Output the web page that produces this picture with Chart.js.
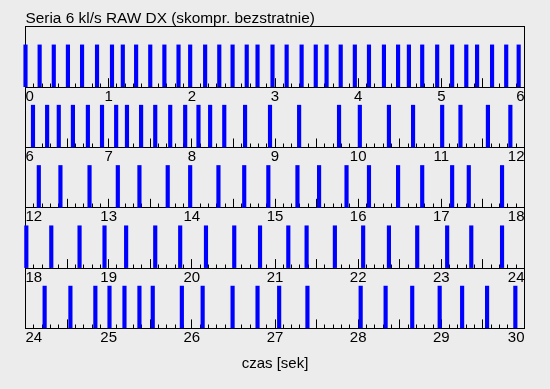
<!DOCTYPE html>
<html>
<head>
<meta charset="utf-8">
<script src="https://cdn.jsdelivr.net/npm/chart.js@4.4.0/dist/chart.umd.min.js"></script>
<style>
  html, body { margin: 0; padding: 0; background: #ececec; }
  #wrap { position: relative; width: 550px; height: 389px; overflow: hidden; background: #ececec; }
  #wrap canvas { position: absolute; left: 0; }
</style>
</head>
<body>
<div id="wrap"></div>
<script>
// ===== teksty =====
const chartTitle = 'Seria 6 kl/s RAW DX (skompr. bezstratnie)';
const axisTitle = 'czas [sek]';

// ===== wiersze: początek każdego odcinka (6 s) =====
const rowStarts = [0, 6, 12, 18, 24];
const rowSpan = 6;

// ===== czasy zapisanych klatek [s] =====
const frames0 = [0, 0.17, 0.34, 0.51, 0.68, 0.86, 1.04, 1.17, 1.33, 1.50, 1.67, 1.84, 1.98,
  2.16, 2.33, 2.49, 2.66, 2.79, 2.97, 3.14, 3.32, 3.49, 3.62, 3.79, 3.96, 4.13, 4.31,
  4.48, 4.61, 4.77, 4.95, 5.13, 5.30, 5.43, 5.61, 5.78, 5.93];
const frames1 = [6.09, 6.26, 6.40, 6.57, 6.75, 6.92, 7.09, 7.22, 7.39, 7.56, 7.74, 7.92,
  8.08, 8.22, 8.39, 8.64, 8.94, 9.29, 9.77, 10.02, 10.37, 10.66, 11.01, 11.23, 11.56, 11.83];
const frames2 = [12.16, 12.42, 12.77, 13.11, 13.37, 13.71, 13.98, 14.32, 14.63, 14.92,
  15.27, 15.53, 15.86, 16.13, 16.48, 16.77, 17.13, 17.33, 17.73];
const frames3 = [18.01, 18.31, 18.65, 18.95, 19.21, 19.56, 19.86, 20.17, 20.51, 20.82,
  21.16, 21.38, 21.72, 22.06, 22.37, 22.71, 23.07, 23.36, 23.73];
const frames4 = [24.23, 24.54, 24.84, 25.01, 25.19, 25.37, 25.53, 25.88, 26.13, 26.49,
  26.79, 27.05, 27.39, 28.03, 28.33, 28.65, 28.98, 29.25, 29.55, 29.89];
const rowsFrames = [frames0, frames1, frames2, frames3, frames4];
const FRAME = 1;   // wysokość słupka = "klatka jest"

// ===== układ =====
const FONT = '"Liberation Sans", Arial, Helvetica, sans-serif';
const AREA_LEFT = 25.5, AREA_RIGHT = 524.5;
const TOP0 = 26.9, ROW_H = 60.3;
const Y_MAX = 1.425;
const TICK_AXIS_H = 28;            // -9 (tick) + 18 (label) + 2 * 9.5 (padding)
const XTITLE_H = -2 + 18 + 3;

const wrap = document.getElementById('wrap');

const isHalf = v => Math.abs(v * 2 - Math.round(v * 2)) < 1e-6;
const isWhole = v => Math.abs(v - Math.round(v)) < 1e-6;

// oś tylko z linią ramki (bez podziałki)
const frameAxis = (pos, min, max, show) => ({
  type: 'linear', position: pos, display: show, min: min, max: max, offset: false,
  ticks: { display: false },
  grid: { display: true, drawOnChartArea: false, drawTicks: false, offset: false },
  border: { display: true, color: '#000', width: 1 }
});

rowStarts.forEach((start, i) => {
  const first = i === 0;
  const last = i === rowStarts.length - 1;
  const T = TOP0 + ROW_H * i;
  const cTop = first ? 0 : Math.floor(T) - 4;
  const areaTop = first ? T : T - cTop;
  const padTop = first ? 0 : areaTop;
  const axisH = TICK_AXIS_H + (last ? XTITLE_H : 0);
  const H = Math.ceil(areaTop + ROW_H + axisH + 3);
  const padBottom = H - areaTop - ROW_H - axisH;

  const cv = document.createElement('canvas');
  cv.width = 550;
  cv.height = H;
  cv.style.top = cTop + 'px';
  wrap.appendChild(cv);

  new Chart(cv, {
    type: 'bar',
    data: {
      datasets: [{
        data: rowsFrames[i].map(t => ({ x: t, y: FRAME })),
        backgroundColor: '#0000ff',
        borderWidth: 0,
        barThickness: 3.5,
        clip: false
      }]
    },
    options: {
      responsive: false,
      animation: false,
      events: [],
      layout: { padding: { left: AREA_LEFT, right: 550 - AREA_RIGHT, top: padTop, bottom: padBottom } },
      plugins: {
        legend: { display: false },
        tooltip: { enabled: false },
        title: {
          display: first, text: chartTitle, align: 'start', color: '#000',
          font: { family: FONT, size: 15.4, weight: 'normal', lineHeight: 1 },
          padding: { top: 10.9, bottom: 0.6 }
        }
      },
      scales: {
        x: {
          type: 'linear', position: 'bottom',
          min: start, max: start + rowSpan, offset: false,
          border: { display: true, color: '#000', width: 1 },
          grid: {
            display: true, offset: false, drawOnChartArea: false, drawTicks: true,
            tickLength: -9, tickColor: '#000', tickWidth: 1,
            tickBorderDash: ctx => (ctx.tick && !isHalf(ctx.tick.value)) ? [4.5, 30] : []
          },
          ticks: {
            stepSize: 0.1, autoSkip: false, maxRotation: 0, minRotation: 0,
            align: 'inner', padding: 9.5, color: '#000',
            font: { family: FONT, size: 15 },
            callback: v => isWhole(v) ? String(Math.round(v)) : ''
          },
          title: {
            display: last, text: axisTitle, color: '#000',
            font: { family: FONT, size: 15 },
            padding: { top: -2, bottom: 3 }
          }
        },
        xt: frameAxis('top', start, start + rowSpan, first),
        y: frameAxis('left', 0, Y_MAX, true),
        yr: frameAxis('right', 0, Y_MAX, true)
      }
    }
  });
});
</script>
</body>
</html>
